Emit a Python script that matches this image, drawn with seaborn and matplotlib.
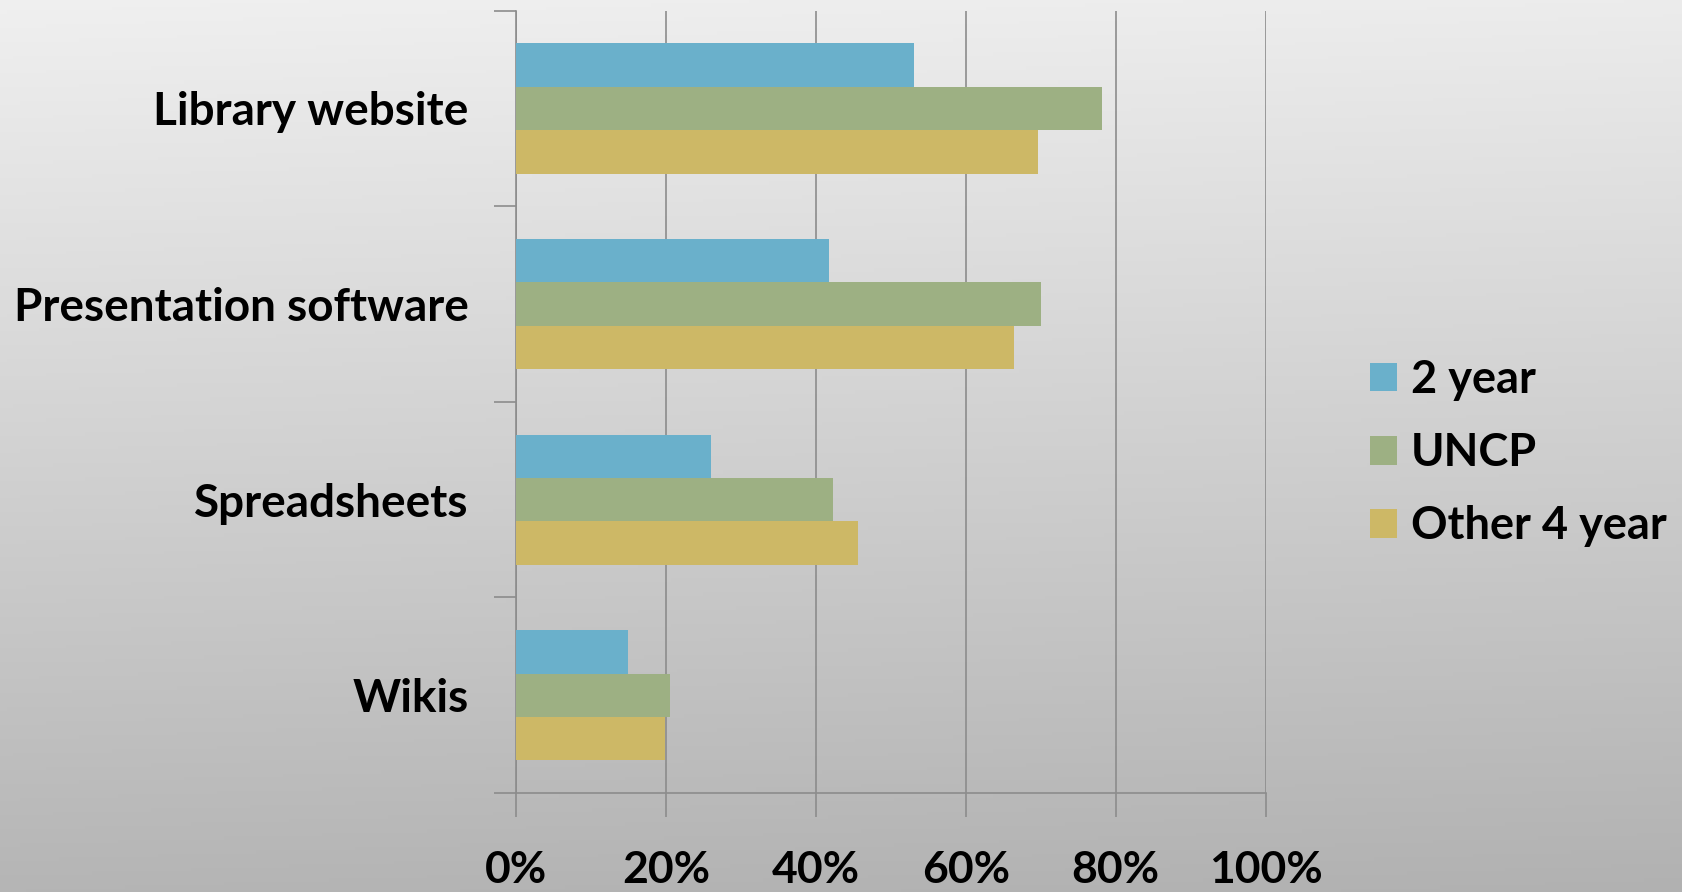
import numpy as np
import pandas as pd
import matplotlib
matplotlib.use("Agg")
import matplotlib.pyplot as plt
import seaborn as sns
from matplotlib.patches import Patch
from matplotlib.ticker import FixedLocator

categories = ["Library website", "Presentation software", "Spreadsheets", "Wikis"]
series_names = ["2 year", "UNCP", "Other 4 year"]
two_year = [53.1, 41.8, 26.0, 14.9]
uncp = [78.2, 70.0, 42.3, 20.5]
other_four_year = [69.7, 66.4, 45.6, 19.9]
x_ticks = [0, 20, 40, 60, 80, 100]
x_tick_labels = ["0%", "20%", "40%", "60%", "80%", "100%"]

colors = ["#6AB0CB", "#9DB083", "#CDB866"]

rows = []
for name, vals in zip(series_names, [two_year, uncp, other_four_year]):
    for c, v in zip(categories, vals):
        rows.append({"category": c, "series": name, "value": v})
df = pd.DataFrame(rows)

sns.set_theme(style="white")
plt.rcParams["font.family"] = ["Lato", "DejaVu Sans"]
plt.rcParams["text.color"] = "black"
plt.rcParams["xtick.color"] = "black"
plt.rcParams["ytick.color"] = "black"

fig = plt.figure(figsize=(16.83, 8.92), dpi=100)

# background gradient
bg = fig.add_axes([0, 0, 1, 1], zorder=-10)
grad = np.linspace(0.94, 0.71, 256).reshape(-1, 1)
xs = np.linspace(0.0, -0.015, 256).reshape(1, -1)
img = np.clip(grad + xs, 0, 1)
bg.imshow(np.dstack([img, img, img]), aspect="auto", extent=[0, 1, 0, 1], origin="upper")
bg.set_axis_off()

ax = fig.add_axes([0.3066, 0.111, 0.4454, 0.877])
ax.patch.set_alpha(0)

sns.barplot(data=df, y="category", x="value", hue="series", order=categories,
            hue_order=series_names, palette=colors, orient="h", width=0.665,
            saturation=1, ax=ax, legend=False, zorder=3, edgecolor="none")

ax.set_xlim(0, 100)
ax.set_ylim(3.5, -0.5)
ax.set_xticks(x_ticks)
ax.set_xticklabels(x_tick_labels, fontsize=32, fontweight="bold", color="black")
ax.set_yticks(range(len(categories)))
ax.set_yticklabels(categories, fontsize=33, fontweight="bold", color="black")
ax.yaxis.set_minor_locator(FixedLocator(np.arange(-0.5, 4.0, 1.0)))
ax.tick_params(axis="y", which="major", length=0, pad=34)
ax.tick_params(axis="y", which="minor", length=16, width=1.2, color="#8C8C8C", direction="out", left=True)
ax.tick_params(axis="x", which="major", length=17, width=1.2, color="#8C8C8C", direction="out", pad=24, bottom=True)
ax.set_xlabel("")
ax.set_ylabel("")

ax.grid(axis="x", color="#8C8C8C", linewidth=1.2, zorder=0)
ax.set_axisbelow(True)
for s in ["top", "right"]:
    ax.spines[s].set_visible(False)
for s in ["left", "bottom"]:
    ax.spines[s].set_color("#8C8C8C")
    ax.spines[s].set_linewidth(1.2)

handles = [Patch(facecolor=c, edgecolor="none") for c in colors]
leg = fig.legend(handles, series_names, loc="center left", bbox_to_anchor=(0.814, 0.492),
                 frameon=False, prop={"family": ["Lato", "DejaVu Sans"], "weight": "bold", "size": 32.5},
                 handlelength=0.6, handleheight=0.6, handletextpad=0.3, labelspacing=0.69,
                 borderaxespad=0, borderpad=0)
for t in leg.get_texts():
    t.set_color("black")

fig.savefig("out.png", dpi=100)
